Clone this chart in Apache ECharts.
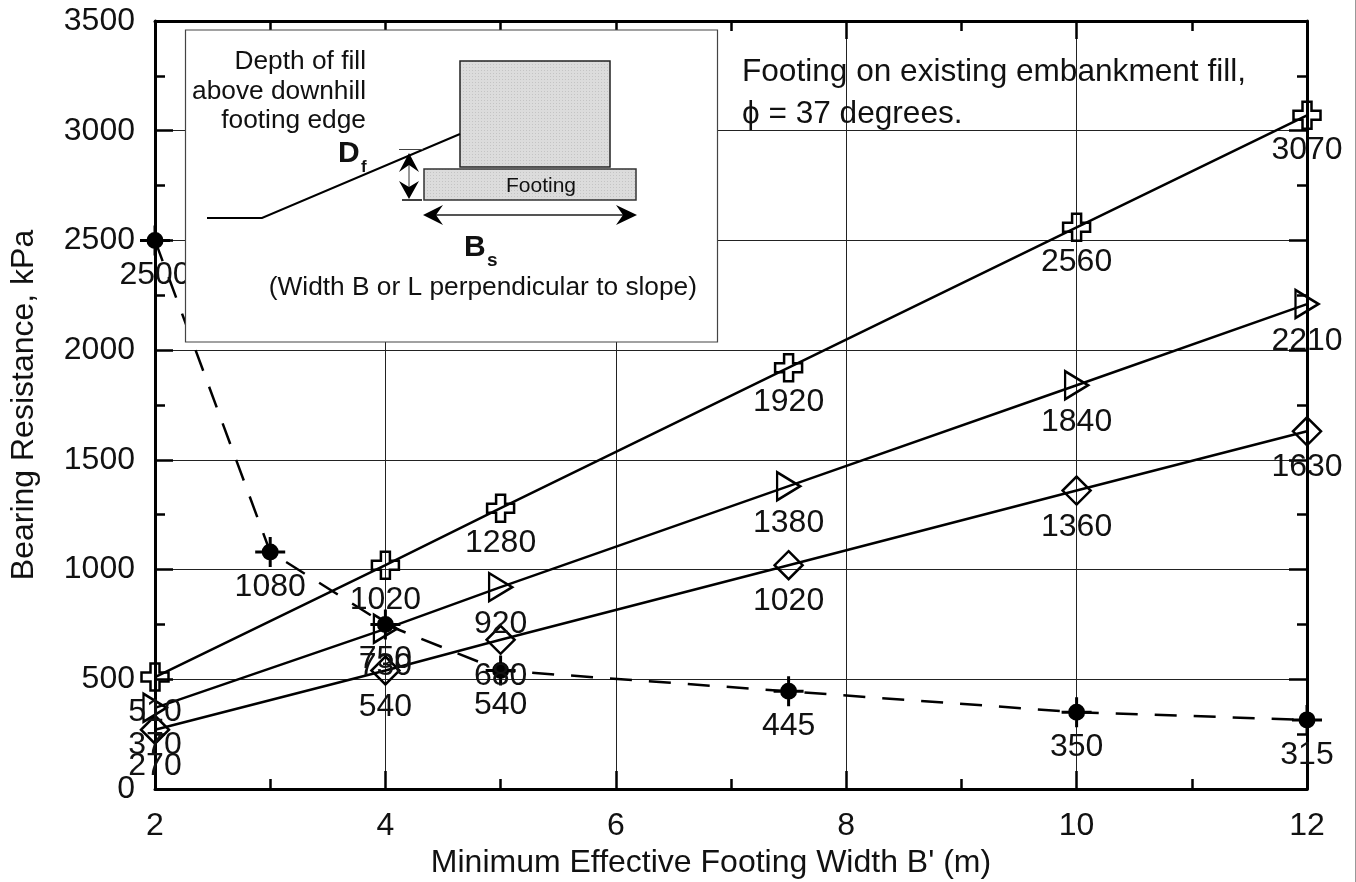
<!DOCTYPE html>
<html>
<head>
<meta charset="utf-8">
<title>Bearing Resistance</title>
<script src="https://cdn.jsdelivr.net/npm/echarts@6/dist/echarts.min.js"></script>
<style>
  html, body { margin: 0; padding: 0; background: #fff; }
  #chart { width: 1356px; height: 882px; }
</style>
</head>
<body>
<div id="chart"></div>
<script>
// values
const widths = [2, 4, 5, 7.5, 10, 12];
const plusValues = [510, 1020, 1280, 1920, 2560, 3070];
const triangleValues = [370, 730, 920, 1380, 1840, 2210];
const diamondValues = [270, 540, 680, 1020, 1360, 1630];
const dotWidths = [2, 3, 4, 5, 7.5, 10, 12];
const dotValues = [2500, 1080, 750, 540, 445, 350, 315];

const FONT = '"Liberation Sans", Arial, sans-serif';
const LABEL_SIZE = 32;

// marker outlines
const plusPath = 'path://M9 0H18V9H27V18H18V27H9V18H0V9H9Z';
const trianglePath = 'path://M0 0L23 14L0 28Z';
const diamondPath = 'path://M14 0L28 14L14 28L0 14Z';
const dotPath = 'path://M15 6.5A8.5 8.5 0 1 1 15 23.5A8.5 8.5 0 1 1 15 6.5ZM0 13.5H30V16.5H0ZM13.5 0H16.5V30H13.5Z';

const zip = (xs, ys) => xs.map((x, i) => [x, ys[i]]);

function makeSeries(name, xs, ys, symbol, size, gap, filled, dashed) {
  return {
    name: name,
    type: 'line',
    data: zip(xs, ys),
    clip: false,
    symbol: symbol,
    symbolSize: size,
    showAllSymbol: true,
    itemStyle: filled
      ? { color: '#000', borderWidth: 0 }
      : { color: 'rgba(0,0,0,0)', borderColor: '#000', borderWidth: 2.5 },
    lineStyle: dashed
      ? { color: '#000', width: 2.5, type: [22, 17] }
      : { color: '#000', width: 2.5 },
    label: {
      show: true,
      position: 'bottom',
      distance: gap,
      color: '#111',
      fontFamily: FONT,
      fontSize: LABEL_SIZE
    }
  };
}

// stippled grey like the print
function stipple() {
  const c = document.createElement('canvas');
  c.width = 3; c.height = 3;
  const g = c.getContext('2d');
  g.fillStyle = '#dcdcdc';
  g.fillRect(0, 0, 3, 3);
  g.fillStyle = '#c4c4c4';
  g.fillRect(1, 1, 1, 1);
  return { image: c, repeat: 'repeat' };
}

const Z = 100;
const line = (pts, w, color) => ({
  type: 'polyline', z: Z,
  shape: { points: pts },
  style: { stroke: color || '#000', lineWidth: w || 2, fill: null }
});
const head = (pts) => ({
  type: 'polygon', z: Z + 1,
  shape: { points: pts },
  style: { fill: '#000' }
});
const txt = (text, x, y, size, align, weight) => ({
  type: 'text', z: Z + 1,
  style: {
    text: text, x: x, y: y, fill: '#111',
    font: (weight || 'normal') + ' ' + size + 'px ' + FONT,
    textAlign: align || 'left', textVerticalAlign: 'middle'
  }
});

const inset = [
  { type: 'rect', z: Z - 1, shape: { x: 185.5, y: 30, width: 532, height: 312 },
    style: { fill: '#fff', stroke: '#444', lineWidth: 1.2 } },
  { type: 'rect', z: Z, shape: { x: 460, y: 61, width: 150, height: 106 },
    style: { fill: stipple(), stroke: '#222', lineWidth: 1.5 } },
  { type: 'rect', z: Z, shape: { x: 424, y: 169, width: 212, height: 31 },
    style: { fill: stipple(), stroke: '#333', lineWidth: 1.5 } },
  line([[207, 218], [262, 218], [460, 134]], 2),
  line([[399, 149.5], [423, 149.5]], 1, '#444'),
  line([[402, 200], [422, 200]], 1.5),
  line([[409, 160], [409, 192]], 1, '#333'),
  head([[409, 153], [419, 172], [409, 165], [399, 172]]),
  head([[409, 199], [419, 181], [409, 187], [399, 181]]),
  line([[432, 215], [628, 215]], 2, '#555'),
  head([[423, 215], [443, 205], [436, 215], [443, 225]]),
  head([[637, 215], [616, 205], [623, 215], [616, 225]]),
  txt('Depth of fill', 366, 62, 26.3, 'right'),
  txt('above downhill', 366, 92, 26.3, 'right'),
  txt('footing edge', 366, 121, 26.3, 'right'),
  txt('D', 338, 154, 30, 'left', 'bold'),
  txt('f', 361, 167, 17, 'left', 'bold'),
  txt('Footing', 541, 186, 21, 'center'),
  txt('B', 464, 248, 30, 'left', 'bold'),
  txt('s', 487, 261, 19, 'left', 'bold'),
  txt('(Width B or L perpendicular to slope)', 697, 288, 26.3, 'right')
];

const notes = [
  txt('Footing on existing embankment fill,', 742, 72, 31.6),
  txt('\u03d5 = 37 degrees.', 742, 114, 31.6),
  { type: 'line', z: Z, shape: { x1: 1355.5, y1: 0, x2: 1355.5, y2: 882 },
    style: { stroke: '#999', lineWidth: 1 } }
];

const tick = { show: true, inside: true, length: 18, lineStyle: { color: '#000', width: 2.5 } };
const minor = { show: true, length: 10, splitNumber: 2, lineStyle: { color: '#000', width: 2.5 } };
const axisLine = { show: true, onZero: false, lineStyle: { color: '#000', width: 3 } };
const axisText = { color: '#111', fontFamily: FONT, fontSize: LABEL_SIZE };
const gridLine = { show: true, lineStyle: { color: '#222', width: 1 } };

const option = {
  animation: false,
  backgroundColor: '#fff',
  grid: { left: 155, right: 49, top: 21, bottom: 93, outerBoundsMode: 'none' },
  xAxis: [{
    type: 'value', min: 2, max: 12, interval: 2, position: 'bottom',
    name: "Minimum Effective Footing Width B' (m)",
    nameLocation: 'middle', nameGap: 56,
    nameTextStyle: { color: '#111', fontFamily: FONT, fontSize: 32, padding: [0, 40, 0, 0] },
    axisLine: axisLine, axisTick: tick, minorTick: minor,
    axisLabel: Object.assign({ margin: 21 }, axisText),
    splitLine: gridLine
  }, {
    type: 'value', min: 2, max: 12, interval: 2, position: 'top',
    axisLine: axisLine, axisTick: tick, minorTick: minor,
    axisLabel: { show: false }, splitLine: { show: false }
  }],
  yAxis: [{
    type: 'value', min: 0, max: 3500, interval: 500, position: 'left',
    name: 'Bearing Resistance, kPa',
    nameLocation: 'middle', nameGap: 115,
    nameTextStyle: { color: '#111', fontFamily: FONT, fontSize: 32 },
    axisLine: axisLine, axisTick: tick, minorTick: minor,
    // the invisible background makes the label honour its padding, which nudges it down
    axisLabel: Object.assign({
      margin: 20, padding: [4, 0, 0, 0], backgroundColor: 'rgba(255,255,255,0)',
      formatter: (v) => String(v)
    }, axisText),
    splitLine: gridLine
  }, {
    type: 'value', min: 0, max: 3500, interval: 500, position: 'right',
    axisLine: axisLine, axisTick: tick, minorTick: minor,
    axisLabel: { show: false }, splitLine: { show: false }
  }],
  series: [
    makeSeries('plus', widths, plusValues, plusPath, 27, 4, false, false),
    makeSeries('triangle', widths, triangleValues, trianglePath, [23, 28], 6, false, false),
    makeSeries('diamond', widths, diamondValues, diamondPath, 28, 5, false, false),
    makeSeries('dot', dotWidths, dotValues, dotPath, 30, 4, true, true)
  ],
  graphic: { elements: inset.concat(notes) }
};

const myChart = echarts.init(document.getElementById('chart'), null, { renderer: 'canvas' });
myChart.setOption(option);
</script>
</body>
</html>
